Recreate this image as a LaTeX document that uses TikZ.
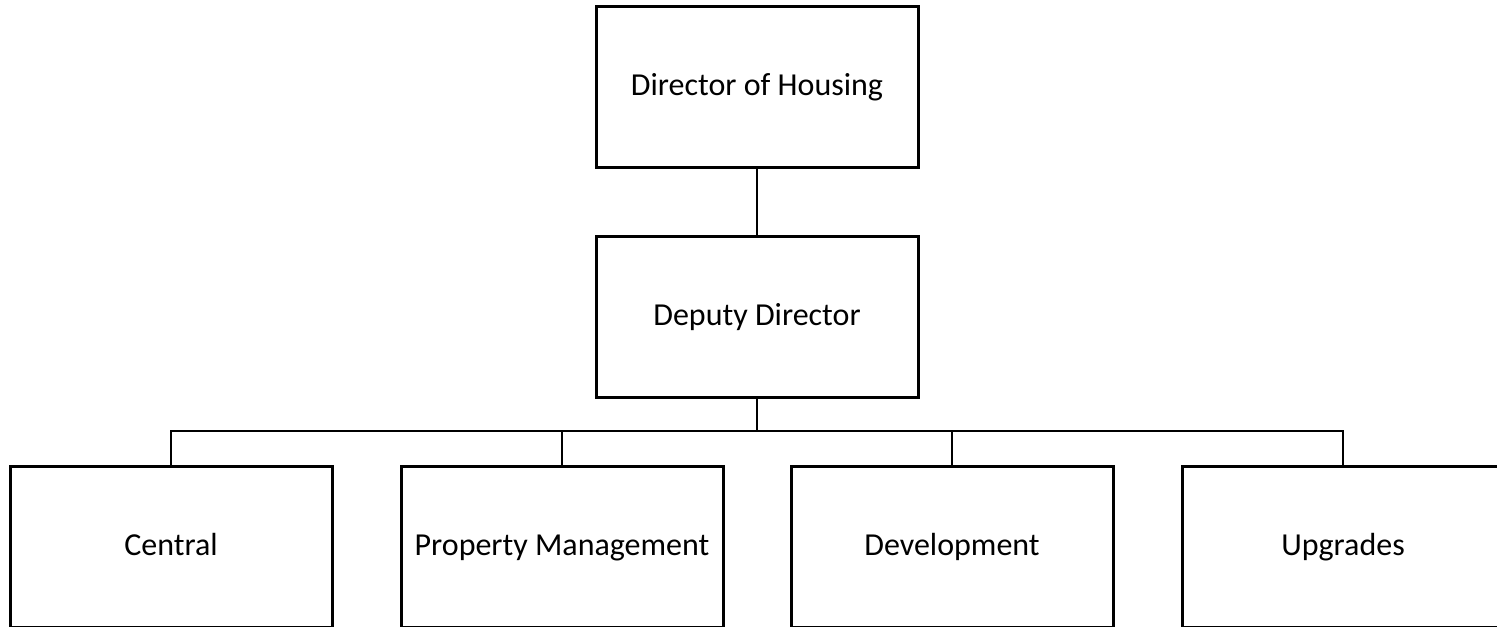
\documentclass[tikz,border=0pt]{standalone}
\usepackage{fontspec}
\setmainfont{Carlito}

\begin{document}
\begin{tikzpicture}[x=0.5pt,y=-0.5pt]
    \tikzstyle{every node}=[font=\fontsize{16}{19}\selectfont]
    \tikzstyle{post}=[draw,line width=1.5pt,minimum width=161pt,minimum height=80.5pt,inner sep=0pt,text height=11pt,text depth=2.5pt]
    \tikzstyle{link}=[line width=1.3pt]
    \def\busy{431}
    \def\rowy{546.5}
    \useasboundingbox (0,0) rectangle (1497,626);
    \node[post] (dir) at (757,87) {Director of Housing};
    \node[post] (dep) at (757,316.5) {Deputy Director};
    \node[post] (cen) at (171,\rowy) {Central};
    \node[post] (prop) at (562,\rowy) {Property Management};
    \node[post] (dev) at (952,\rowy) {Development};
    \node[post] (upg) at (1343,\rowy) {Upgrades};
    \coordinate (bus) at (757,\busy);
    \draw[link] (dir) -- (dep);
    \draw[link] (dep) -- (bus);
    \draw[link] (bus) -| (cen);
    \draw[link] (bus) -| (prop);
    \draw[link] (bus) -| (dev);
    \draw[link] (bus) -| (upg);
\end{tikzpicture}
\end{document}
